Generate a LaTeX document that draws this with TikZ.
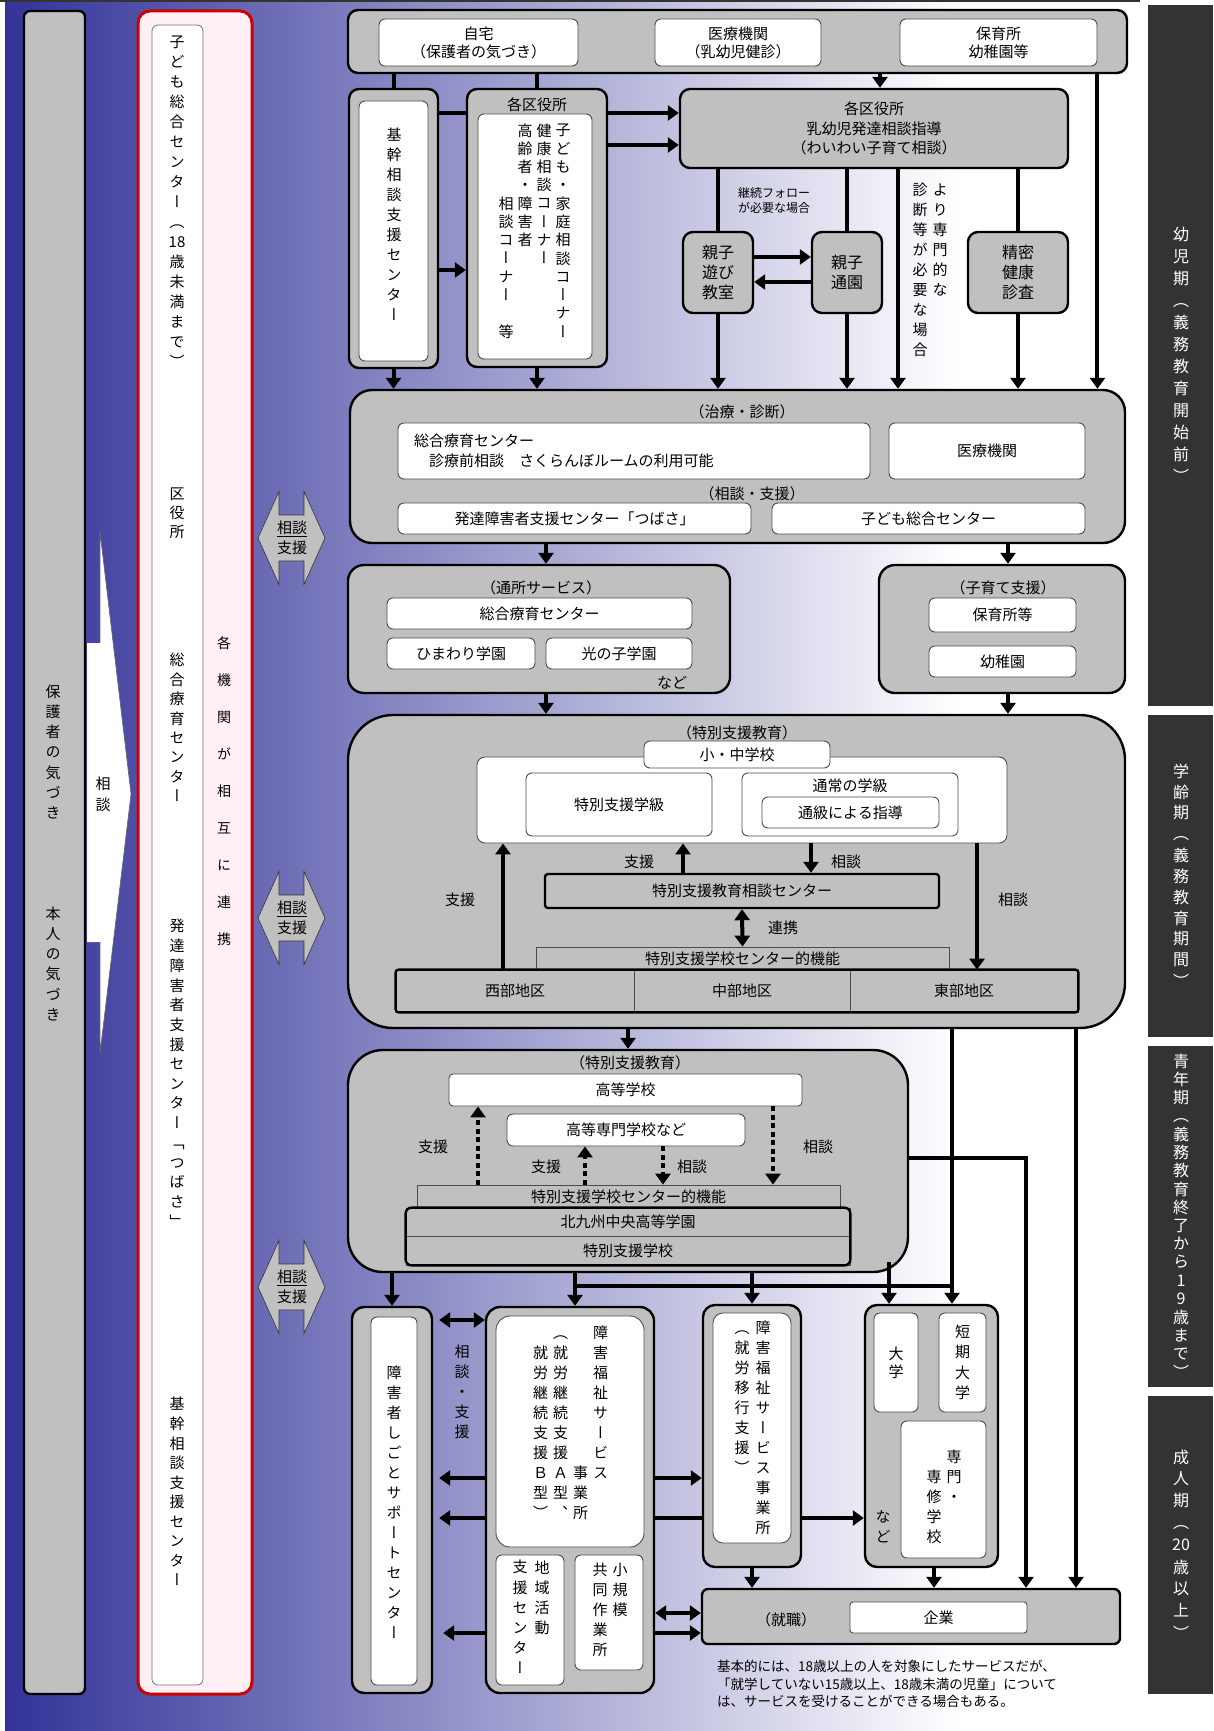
\documentclass[tikz,border=0pt]{standalone}
\usepackage{fontspec}
\setmainfont{Noto Sans CJK JP}
\newfontfamily\tatejp[RawFeature=+vert]{Noto Sans CJK JP}
\usetikzlibrary{arrows.meta}
\definecolor{deepblue}{HTML}{333399}
\definecolor{boxgray}{HTML}{C0C0C0}
\definecolor{panel}{HTML}{333333}
\definecolor{linkred}{HTML}{CC0000}
\definecolor{pinkfill}{HTML}{FFF0F5}
\newcommand\boxfont{\fontsize{15}{18}\selectfont}
\newcommand\tatefont{\tatejp\fontsize{15}{15}\selectfont}
% vertical writing: one glyph per cell
\makeatletter
\newdimen\vtpitch \vtpitch=20pt
\def\vt@end{\vt@end}
\def\vt@endtest{\vt@end}
\newcommand\vt[1]{\vtop{\offinterlineskip\vt@loop#1\vt@end}}
\def\vt@loop#1{\def\vt@arg{#1}%
  \ifx\vt@arg\vt@endtest\else
    \vbox to\vtpitch{\vss\hbox to1.2em{\hss\vphantom{国}#1\hss}\vss}%
  \expandafter\vt@loop\fi}
\makeatother

\begin{document}
\begin{tikzpicture}[x=1pt,y=-1pt,
  frame/.style={draw=black,line width=2.4pt,fill=boxgray,rounded corners=10pt,inner sep=0pt},
  card/.style={draw=black!70,line width=.9pt,fill=white,rounded corners=6pt,inner sep=0pt,align=center,font=\boxfont},
  flat/.style={draw=black!70,line width=.8pt,fill=boxgray,inner sep=0pt,font=\boxfont},
  sz/.style 2 args={minimum width=#1pt,minimum height=#2pt},
  tag/.style={inner sep=0pt,align=center,font=\boxfont},
  vtext/.style={inner sep=0pt,anchor=north,font=\tatefont},
  vpitch/.code={\vtpitch=#1pt},
  ln/.style={line width=4pt},
  arr/.style={ln,-{Triangle[length=11pt,width=15pt]}},
  arrs/.style={ln,{Triangle[length=11pt,width=15pt]}-{Triangle[length=11pt,width=15pt]}},
  dotarr/.style={arr,dash pattern=on 5pt off 3.5pt}]
\useasboundingbox (0,0) rectangle (1213,1731);

% background
\fill[white] (0,0) rectangle (1213,1731);
\shade[left color=deepblue,right color=white] (5,0) rectangle (960,1731);
\draw[panel,line width=2.5pt] (0,1.2) -- (1140,1.2);

% life stages
\foreach \ya/\yb/\pp/\phase [count=\i] in {5/706/22/{幼児期︵義務教育開始前︶},715/1037/21/{学齢期︵義務教育期間︶},1046/1387/18.3/{青年期︵義務教育終了から19歳まで︶},1396/1694/22/{成人期︵{20}歳以上︶}}{
  \fill[panel] (1148,\ya) rectangle (1213,\yb);
  \node[vtext,anchor=center,vpitch=\pp,text=white,font=\tatejp\fontsize{16}{16}\selectfont] (period\i) at (1181,{(\ya+\yb)/2}) {\expandafter\vt\expandafter{\phase}};
}

% left column
\node[frame,rounded corners=6pt,sz={61}{1683}] (aware) at (54.5,852.5) {};
\node[vtext,vpitch=20.3] (parent) at (53,681) {\vt{保護者の気づき}};
\node[vtext,vpitch=20.3] (self) at (53,903) {\vt{本人の気づき}};
\fill[white] (87,643) -- (100,643) -- (100,532) -- (131,794) -- (100,1053) -- (100,942) -- (87,942) -- cycle;
\draw[black!60,line width=.6pt] (100,643) -- (100,532) -- (131,794) -- (100,1053) -- (100,942);
\node[vtext,vpitch=21] (consult) at (103,773) {\vt{相談}};

% network column
\node[draw=linkred,line width=3pt,fill=pinkfill,rounded corners=12pt,sz={114}{1683}] (network) at (195,852.5) {};
\node[draw=black!55,line width=.8pt,fill=white,rounded corners=6pt,sz={51}{1660}] (orgs) at (177.5,855) {};
\node[vtext,vpitch=20] (org1) at (177,32) {\vt{子ども総合センター︵{18}歳未満まで︶}};
\node[vtext,vpitch=19] (org2) at (177,484.5) {\vt{区役所}};
\node[vtext,vpitch=19.4] (org3) at (177,650.3) {\vt{総合療育センター}};
\node[vtext,vpitch=19.7] (org4) at (177,916.2) {\vt{発達障害者支援センター﹁つばさ﹂}};
\node[vtext,vpitch=19.6] (org5) at (177,1394.2) {\vt{基幹相談支援センター}};
\node[vtext,vpitch=37,font=\tatejp\fontsize{14}{14}\selectfont] (mutual) at (224,624.5) {\vt{各機関が相互に連携}};

% consult badges
\foreach \by [count=\i] in {538,918,1287}{
  \filldraw[fill=boxgray,draw=black!80,line width=.6pt] (279,{\by-46.5}) -- (279,{\by-23}) -- (304,{\by-23}) -- (304,{\by-46.5}) -- (325,\by) -- (304,{\by+46.5}) -- (304,{\by+23}) -- (279,{\by+23}) -- (279,{\by+46.5}) -- (258,\by) -- cycle;
  \node[tag,font=\fontsize{15}{20}\selectfont] (badge\i) at (292,\by) {\underline{相談}\\支援};
}

% first contact
\node[frame,sz={779}{63}] (tops) at (737.5,41.5) {};
\node[card,sz={199}{47}] (home) at (478.5,42.5) {自宅\\（保護者の気づき）};
\node[card,sz={166}{47}] (clinic) at (738,42.5) {医療機関\\（乳幼児健診）};
\node[card,sz={197}{47}] (nursery) at (998.5,42.5) {保育所\\幼稚園等};

\node[frame,sz={89}{279}] (kikan) at (393.5,228.5) {};
\node[card,sz={69}{260}] (kikanin) at (393.5,231) {};
\node[vtext,vpitch=20] (kikantxt) at (394,125) {\vt{基幹相談支援センター}};

\node[frame,sz={140}{278}] (kakuku) at (537,228) {};
\node[tag] (kakukutitle) at (537,105) {各区役所};
\node[card,sz={114}{245}] (kakukuin) at (535,236.5) {};
\node[vtext,vpitch=18.3] (corners) at (534.5,121) {\hbox{\vt{{}{}{}{}相談コーナー{}等}\hspace{1pt}\vt{高齢者・障害者}\hspace{1pt}\vt{健康相談コーナー}\hspace{1pt}\vt{子ども・家庭相談コーナー}}};

\node[frame,sz={388}{79},align=center,font=\fontsize{15}{19.5}\selectfont] (ward) at (874,128.5) {各区役所\\乳幼児発達相談指導\\（わいわい子育て相談）};
\node[frame,sz={70}{81},align=center,font=\fontsize{16}{20}\selectfont] (play) at (718,272.5) {親子\\遊び\\教室};
\node[frame,sz={70}{81},align=center,font=\fontsize{16}{20}\selectfont] (commute) at (847,272.5) {親子\\通園};
\node[frame,sz={100}{81},align=center,font=\fontsize{16}{20}\selectfont] (exam) at (1018,272.5) {精密\\健康\\診査};
\node[tag,align=left,anchor=west,font=\fontsize{12}{15}\selectfont] (follow) at (738,200.5) {継続フォロー\\が必要な場合};
\node[vtext,vpitch=20] (special) at (930,180) {\hbox{\vt{診断等が必要な場合}\hspace{2pt}\vt{より専門的な}}};

% treatment and support
\node[frame,rounded corners=22pt,sz={775}{153}] (care) at (737.5,466.5) {};
\node[tag] (caretitle) at (742,412) {（治療・診断）};
\node[card,sz={472}{56},text width=440pt,align=left,inner xsep=16pt,font=\fontsize{15}{20}\selectfont] (ryoiku) at (634,451) {総合療育センター\\　診療前相談　さくらんぼルームの利用可能};
\node[card,sz={196}{56}] (hospital) at (987,451) {医療機関};
\node[tag] (supporttitle) at (752,494) {（相談・支援）};
\node[card,sz={353}{31}] (tsubasa) at (574.5,518.5) {発達障害者支援センター「つばさ」};
\node[card,sz={313}{31}] (kodomo) at (928.5,518.5) {子ども総合センター};

\node[frame,rounded corners=16pt,sz={382}{128}] (daycare) at (539,629) {};
\node[tag] (daycaretitle) at (541,588) {（通所サービス）};
\node[card,sz={305}{31}] (ryoiku2) at (539.5,613.5) {総合療育センター};
\node[card,sz={148}{31}] (himawari) at (461,653.5) {ひまわり学園};
\node[card,sz={146}{31}] (hikari) at (619,653.5) {光の子学園};
\node[tag] (etc1) at (672,683) {など};

\node[frame,rounded corners=16pt,sz={246}{128}] (childcare) at (1002,629) {};
\node[tag] (childcaretitle) at (1003,588) {（子育て支援）};
\node[card,sz={147}{34}] (hoikusho) at (1002.5,615) {保育所等};
\node[card,sz={147}{31}] (yochien) at (1002.5,661.5) {幼稚園};

% compulsory education
\node[frame,rounded corners=45pt,sz={777}{313}] (compulsory) at (736.5,871.5) {};
\node[tag] (comptitle) at (737,733) {（特別支援教育）};
\node[card,rounded corners=8pt,sz={530}{86}] (school) at (742,800) {};
\node[card,sz={186}{27}] (elem) at (737,754.5) {小・中学校};
\node[card,sz={186}{63}] (tokkyu) at (619,804.5) {特別支援学級};
\node[card,sz={216}{63}] (regular) at (850,804.5) {};
\node[tag] (regulartitle) at (850,786) {通常の学級};
\node[card,sz={177}{31}] (tsukyu) at (850.5,812.5) {通級による指導};
\node[frame,rounded corners=3pt,sz={394}{34},font=\boxfont] (edcenter) at (742,891) {特別支援教育相談センター};
\node[flat,sz={413}{24}] (function1) at (742.5,959) {特別支援学校センター的機能};
\node[flat,sz={238}{42}] (west) at (515,991) {西部地区};
\node[flat,sz={216}{42}] (middle) at (742,991) {中部地区};
\node[flat,sz={228}{42}] (east) at (964,991) {東部地区};
\draw[line width=2.4pt,rounded corners=3pt] (west.north west) rectangle (east.south east);
\node[tag] (l1) at (639,862) {支援};
\node[tag] (l2) at (846,862) {相談};
\node[tag] (l3) at (783,928) {連携};
\node[tag] (l4) at (460,900) {支援};
\node[tag] (l5) at (1013,900) {相談};

% high school
\node[frame,rounded corners=35pt,sz={560}{222}] (highschool) at (628,1161) {};
\node[tag] (hstitle) at (630,1063) {（特別支援教育）};
\node[card,rounded corners=4pt,sz={353}{32}] (koko) at (625.5,1090) {高等学校};
\node[card,sz={238}{32}] (kosen) at (626,1130) {高等専門学校など};
\node[flat,sz={423}{24}] (function2) at (628.5,1197) {特別支援学校センター的機能};
\node[flat,sz={444}{28}] (gakuen) at (628,1222) {北九州中央高等学園};
\node[flat,sz={444}{29}] (tokushi) at (628,1250.5) {特別支援学校};
\draw[line width=2.4pt,rounded corners=6pt] (gakuen.north west) rectangle (tokushi.south east);
\node[tag] (l6) at (433,1147) {支援};
\node[tag] (l7) at (546,1167) {支援};
\node[tag] (l8) at (692,1167) {相談};
\node[tag] (l9) at (818,1147) {相談};

% adult services
\node[frame,rounded corners=12pt,sz={80}{386}] (shigoto) at (392,1500) {};
\node[card,sz={46}{368}] (shigotoin) at (394,1501) {};
\node[vtext,vpitch=20] (shigototxt) at (394,1363) {\vt{障害者しごとサポートセンター}};
\node[vtext,vpitch=20] (soudanshien) at (462,1342) {\vt{相談・支援}};

\node[frame,rounded corners=14pt,sz={168}{386}] (welfare) at (570,1500) {};
\node[card,rounded corners=14pt,sz={148}{231}] (welfarein) at (570,1431.5) {};
\node[vtext,vpitch=20] (welfaretxt) at (570.5,1323) {\hbox{\vt{{}就労継続支援Ｂ型︶}\hspace{2pt}\vt{︵就労継続支援Ａ型、}\hspace{2pt}\vt{{}{}{}{}{}{}{}事業所}\hspace{2pt}\vt{障害福祉サービス}}};
\node[card,sz={68}{130}] (chiiki) at (530,1620) {};
\node[vtext,vpitch=20.2] (chiikitxt) at (531,1557) {\hbox{\vt{支援センター}\hspace{4pt}\vt{地域活動}}};
\node[card,sz={68}{115}] (shokibo) at (609,1612.5) {};
\node[vtext,vpitch=20] (shokibotxt) at (610,1560) {\hbox{\vt{共同作業所}\hspace{2pt}\vt{小規模}}};

\node[frame,rounded corners=12pt,sz={98}{262}] (transition) at (752,1436) {};
\node[card,rounded corners=10pt,sz={78}{230}] (transitionin) at (752,1428) {};
\node[vtext,vpitch=20] (transtxt) at (752.5,1318) {\hbox{\vt{︵就労移行支援︶}\hspace{3pt}\vt{障害福祉サービス事業所}}};

\node[frame,rounded corners=12pt,sz={133}{262}] (college) at (931.5,1436) {};
\node[card,sz={44}{99}] (univ) at (896,1362.5) {\tatefont\vtpitch=18pt\vt{大学}};
\node[card,sz={47}{99}] (tandai) at (962.5,1362.5) {\tatefont\vtpitch=20.5pt\vt{短期大学}};
\node[card,sz={85}{137}] (senmon) at (943.5,1489.5) {};
\node[vtext,vpitch=20] (senmontxt) at (944,1447) {\hbox{\vt{{}専修学校}\hspace{2pt}\vt{専門・}}};
\node[vtext,vpitch=20] (etc2) at (883,1507) {\vt{など}};

\node[frame,rounded corners=6pt,sz={418}{55}] (job) at (911,1616.5) {};
\node[tag] (jobtitle) at (786,1620) {（就職）};
\node[card,rounded corners=3pt,sz={177}{31}] (company) at (938.5,1617.5) {企業};

\node[tag,anchor=north west,align=left,font=\fontsize{13.5}{17.5}\selectfont] (note) at (717,1660) {基本的には、18歳以上の人を対象にしたサービスだが、\\「就学していない15歳以上、18歳未満の児童」について\\は、サービスを受けることができる場合もある。};

% connectors: infancy
\draw[ln] (tops.south -| kikan.north) -- (kikan.north);
\draw[ln] (tops.south -| kakuku.north) -- (kakuku.north);
\draw[arr] (tops.south -| 880,0) -- (ward.north -| 880,0);
\draw[arr] (tops.south -| nursery.east) -- (care.north -| nursery.east);
\draw[ln] (kikan.east |- 0,113) -- (kakuku.west |- 0,113);
\draw[arr] (kakuku.east |- 0,113) -- (ward.west |- 0,113);
\draw[arr] (kakuku.east |- 0,145) -- (ward.west |- 0,145);
\draw[arr] (kikan.east |- 0,270) -- (kakuku.west |- 0,270);
\draw[ln] (ward.south -| play.north) -- (play.north);
\draw[arr] (play.south) -- (care.north -| play.south);
\draw[ln] (ward.south -| commute.north) -- (commute.north);
\draw[arr] (commute.south) -- (care.north -| commute.south);
\draw[arr] (play.east |- 0,257) -- (commute.west |- 0,257);
\draw[arr] (commute.west |- 0,282) -- (play.east |- 0,282);
\draw[arr] (ward.south -| 898,0) -- (care.north -| 898,0);
\draw[ln] (ward.south -| exam.north) -- (exam.north);
\draw[arr] (exam.south) -- (care.north -| exam.south);
\draw[arr] (kikan.south) -- (care.north -| kikan.south);
\draw[arr] (kakuku.south) -- (care.north -| kakuku.south);
\draw[arr] (care.south -| 546,0) -- (daycare.north -| 546,0);
\draw[arr] (care.south -| 1008,0) -- (childcare.north -| 1008,0);
\draw[arr] (daycare.south -| 546,0) -- (compulsory.north -| 546,0);
\draw[arr] (childcare.south -| 1008,0) -- (compulsory.north -| 1008,0);

% connectors: school age
\draw[arr] (edcenter.north -| 683,0) -- (school.south -| 683,0);
\draw[arr] (school.south -| 811,0) -- (edcenter.north -| 811,0);
\draw[arrs] (edcenter.south) -- (function1.north);
\draw[arr] (west.north -| 503,0) -- (school.south -| 503,0);
\draw[arr] (school.south -| 977,0) -- (east.north -| 977,0);
\draw[arr] (compulsory.south -| highschool.north) -- (highschool.north);
\draw[arr] (compulsory.south -| 952,0) -- (college.north -| 952,0);
\draw[arr] (compulsory.south -| 1076,0) -- (job.north -| 1076,0);

% connectors: youth
\draw[dotarr] (function2.north -| 478,0) -- (koko.south -| 478,0);
\draw[dotarr] (function2.north -| 585,0) -- (kosen.south -| 585,0);
\draw[dotarr] (kosen.south -| 663,0) -- (function2.north -| 663,0);
\draw[dotarr] (koko.south -| 773,0) -- (function2.north -| 773,0);
\draw[arr] (highschool.east |- 0,1158) -| (job.north -| 1026,0);
\draw[arr] (highschool.south -| shigoto.north) -- (shigoto.north);
\draw[arr] (highschool.south -| 575,0) -- (welfare.north -| 575,0);
\draw[arr] (highschool.south -| transition.north) -- (transition.north);
\coordinate (hsexit) at (889,1262);
\draw[arr] (hsexit) -- (college.north -| hsexit);
\coordinate (joinl) at (575,1286);
\coordinate (joinr) at (952,1286);
\draw[ln,line cap=rect] (joinl) -- (joinr);

% connectors: adult
\draw[arrs,shorten <=6pt] (shigoto.east |- 0,1320) -- (welfare.west |- 0,1320);
\draw[arr,shorten >=6pt] (welfare.west |- 0,1478) -- (shigoto.east |- 0,1478);
\draw[arr,shorten >=6pt] (welfare.west |- 0,1518) -- (shigoto.east |- 0,1518);
\draw[arr,shorten >=10pt] (welfare.west |- 0,1633) -- (shigoto.east |- 0,1633);
\draw[arr] (welfare.east |- 0,1478) -- (transition.west |- 0,1478);
\draw[ln] (welfare.east |- 0,1518) -- (transition.west |- 0,1518);
\draw[arr] (transition.east |- 0,1518) -- (college.west |- 0,1518);
\draw[arrs] (welfare.east |- 0,1613) -- (job.west |- 0,1613);
\draw[arr] (welfare.east |- 0,1633) -- (job.west |- 0,1633);
\draw[arr] (transition.south) -- (job.north -| transition.south);
\draw[arr] (college.south -| 934,0) -- (job.north -| 934,0);
\end{tikzpicture}
\end{document}
